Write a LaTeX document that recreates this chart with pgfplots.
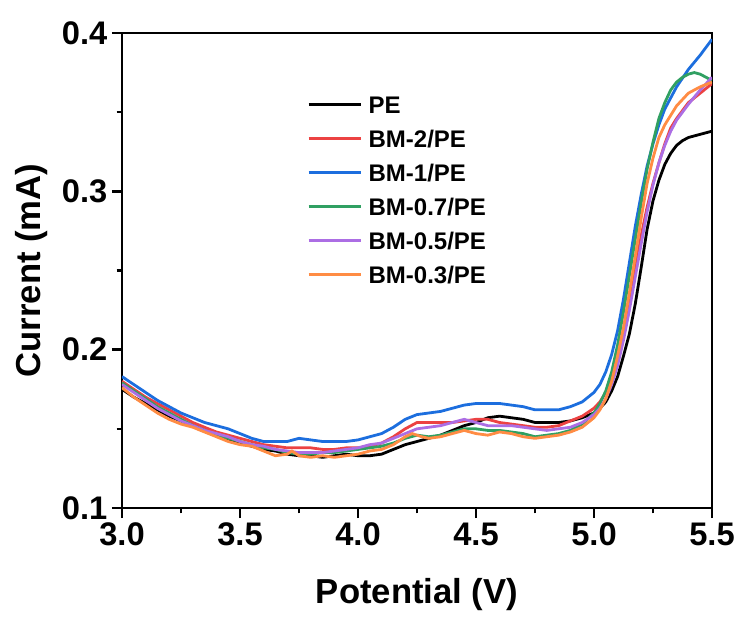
\documentclass[border=0pt]{standalone}
\usepackage{fontspec}
\setmainfont{Liberation Sans}
\usepackage{pgfplots}
\pgfplotsset{compat=1.18}
\definecolor{cRed}{RGB}{236,66,66}
\definecolor{cBlue}{RGB}{28,110,222}
\definecolor{cGreen}{RGB}{48,160,98}
\definecolor{cPurple}{RGB}{172,110,228}
\definecolor{cOrange}{RGB}{255,140,68}
\begin{document}
\begin{tikzpicture}
\begin{axis}[
  scale only axis, width=442.5pt, height=356.25pt,
  xmin=3, xmax=5.5, ymin=0.1, ymax=0.4,
  xtick={3,3.5,4,4.5,5,5.5}, ytick={0.1,0.2,0.3,0.4},
  minor x tick num=1, minor y tick num=1,
  xtick pos=bottom, ytick pos=left,
  tick align=outside,
  major tick length=7.5pt, minor tick length=4pt,
  axis line style={line width=2.2pt},
  every tick/.style={black, line width=2pt},
  /pgf/number format/assume math mode=true,
  xticklabel style={/pgf/number format/.cd, fixed, fixed zerofill, precision=1},
  yticklabel style={/pgf/number format/.cd, fixed, fixed zerofill, precision=1},
  ticklabel style={font=\fontsize{24.5pt}{29pt}\selectfont\bfseries},
  xlabel={Potential (V)}, ylabel={Current (mA)},
  label style={font=\fontsize{26pt}{31pt}\selectfont\bfseries},
  xlabel style={at={(axis description cs:0.5,-0.183)}, anchor=center},
  ylabel style={at={(axis description cs:-0.1525,0.5)}, anchor=center},
  legend cell align=left,
  legend style={at={(rel axis cs:0.3136,0.868)}, anchor=north west, draw=none, fill=none,
    inner sep=0pt, font=\fontsize{18pt}{21pt}\selectfont\bfseries,
    row sep=12.5pt, column sep=5pt,
    nodes={inner sep=0pt, text height=13pt, text depth=0pt}},
  legend image code/.code={\draw[#1,line width=2pt] (0pt,0pt) -- (39pt,0pt);},
  every axis plot/.append style={line width=2.1pt},
]
\addplot[black] coordinates {
(3.00,0.175)(3.05,0.170)(3.10,0.166)(3.15,0.162)(3.20,0.158)(3.25,0.155)(3.30,0.152)(3.35,0.149)(3.40,0.146)(3.45,0.143)
(3.50,0.141)(3.55,0.139)(3.60,0.137)(3.65,0.136)(3.70,0.134)(3.75,0.133)(3.80,0.133)(3.85,0.132)(3.90,0.133)(3.95,0.134)
(4.00,0.133)(4.05,0.133)(4.10,0.134)(4.15,0.137)(4.20,0.140)(4.25,0.142)(4.30,0.144)(4.35,0.146)(4.40,0.149)(4.45,0.152)
(4.50,0.154)(4.55,0.157)(4.60,0.158)(4.65,0.157)(4.70,0.156)(4.75,0.154)(4.80,0.154)(4.85,0.154)(4.90,0.155)(4.95,0.157)
(5.00,0.160)(5.025,0.163)(5.05,0.167)(5.075,0.174)(5.10,0.183)(5.125,0.196)(5.15,0.210)(5.175,0.229)(5.20,0.252)(5.225,0.276)
(5.25,0.294)(5.275,0.307)(5.30,0.317)(5.325,0.324)(5.35,0.329)(5.375,0.332)(5.40,0.334)(5.45,0.336)(5.50,0.338)};
\addlegendentry{PE}
\addplot[cRed] coordinates {
(3.00,0.180)(3.05,0.175)(3.10,0.170)(3.15,0.166)(3.20,0.162)(3.25,0.158)(3.30,0.154)(3.35,0.151)(3.40,0.148)(3.45,0.146)
(3.50,0.144)(3.55,0.142)(3.60,0.140)(3.65,0.139)(3.70,0.138)(3.75,0.138)(3.80,0.138)(3.85,0.137)(3.90,0.137)(3.95,0.138)
(4.00,0.138)(4.05,0.139)(4.10,0.141)(4.15,0.145)(4.20,0.150)(4.25,0.154)(4.30,0.154)(4.35,0.154)(4.40,0.154)(4.45,0.155)
(4.50,0.156)(4.55,0.156)(4.60,0.154)(4.65,0.153)(4.70,0.152)(4.75,0.151)(4.80,0.151)(4.85,0.152)(4.90,0.155)(4.95,0.158)
(5.00,0.163)(5.025,0.167)(5.05,0.173)(5.075,0.182)(5.10,0.195)(5.125,0.211)(5.15,0.230)(5.175,0.251)(5.20,0.272)(5.225,0.290)
(5.25,0.305)(5.275,0.318)(5.30,0.330)(5.325,0.340)(5.35,0.346)(5.40,0.356)(5.45,0.362)(5.50,0.368)};
\addlegendentry{BM-2/PE}
\addplot[cBlue] coordinates {
(3.00,0.183)(3.05,0.178)(3.10,0.173)(3.15,0.168)(3.20,0.164)(3.25,0.160)(3.30,0.157)(3.35,0.154)(3.40,0.152)(3.45,0.150)
(3.50,0.147)(3.55,0.144)(3.60,0.142)(3.65,0.142)(3.70,0.142)(3.75,0.144)(3.80,0.143)(3.85,0.142)(3.90,0.142)(3.95,0.142)
(4.00,0.143)(4.05,0.145)(4.10,0.147)(4.15,0.151)(4.20,0.156)(4.25,0.159)(4.30,0.160)(4.35,0.161)(4.40,0.163)(4.45,0.165)
(4.50,0.166)(4.55,0.166)(4.60,0.166)(4.65,0.165)(4.70,0.164)(4.75,0.162)(4.80,0.162)(4.85,0.162)(4.90,0.164)(4.95,0.167)
(5.00,0.173)(5.025,0.178)(5.05,0.186)(5.075,0.197)(5.10,0.212)(5.125,0.232)(5.15,0.255)(5.175,0.278)(5.20,0.298)(5.225,0.316)
(5.25,0.330)(5.275,0.342)(5.30,0.352)(5.35,0.366)(5.40,0.377)(5.45,0.386)(5.50,0.396)};
\addlegendentry{BM-1/PE}
\addplot[cGreen] coordinates {
(3.00,0.179)(3.05,0.174)(3.10,0.169)(3.15,0.164)(3.20,0.160)(3.25,0.156)(3.30,0.152)(3.35,0.149)(3.40,0.146)(3.45,0.144)
(3.50,0.142)(3.55,0.140)(3.60,0.138)(3.65,0.137)(3.70,0.135)(3.75,0.134)(3.80,0.134)(3.85,0.135)(3.90,0.135)(3.95,0.136)
(4.00,0.137)(4.05,0.138)(4.10,0.139)(4.15,0.141)(4.20,0.144)(4.25,0.146)(4.30,0.145)(4.35,0.146)(4.40,0.148)(4.45,0.150)
(4.50,0.150)(4.55,0.149)(4.60,0.149)(4.65,0.148)(4.70,0.147)(4.75,0.145)(4.80,0.146)(4.85,0.147)(4.90,0.149)(4.95,0.153)
(5.00,0.160)(5.025,0.166)(5.05,0.174)(5.075,0.186)(5.10,0.203)(5.125,0.224)(5.15,0.247)(5.175,0.270)(5.20,0.293)(5.225,0.314)
(5.25,0.331)(5.275,0.346)(5.30,0.356)(5.325,0.364)(5.35,0.369)(5.375,0.372)(5.40,0.374)(5.425,0.375)(5.45,0.374)(5.475,0.372)(5.50,0.370)};
\addlegendentry{BM-0.7/PE}
\addplot[cPurple] coordinates {
(3.00,0.178)(3.05,0.173)(3.10,0.168)(3.15,0.163)(3.20,0.159)(3.25,0.155)(3.30,0.152)(3.35,0.149)(3.40,0.147)(3.45,0.145)
(3.50,0.142)(3.55,0.140)(3.60,0.139)(3.65,0.137)(3.70,0.136)(3.75,0.135)(3.80,0.135)(3.85,0.135)(3.90,0.136)(3.95,0.137)
(4.00,0.138)(4.05,0.140)(4.10,0.141)(4.15,0.144)(4.20,0.147)(4.25,0.150)(4.30,0.151)(4.35,0.152)(4.40,0.154)(4.45,0.156)
(4.50,0.154)(4.55,0.152)(4.60,0.152)(4.65,0.152)(4.70,0.151)(4.75,0.150)(4.80,0.149)(4.85,0.150)(4.90,0.151)(4.95,0.154)
(5.00,0.159)(5.025,0.163)(5.05,0.169)(5.075,0.178)(5.10,0.190)(5.125,0.206)(5.15,0.225)(5.175,0.246)(5.20,0.267)(5.225,0.287)
(5.25,0.304)(5.275,0.318)(5.30,0.329)(5.325,0.338)(5.35,0.345)(5.40,0.355)(5.45,0.364)(5.50,0.372)};
\addlegendentry{BM-0.5/PE}
\addplot[cOrange] coordinates {
(3.00,0.176)(3.05,0.170)(3.10,0.165)(3.15,0.160)(3.20,0.156)(3.25,0.153)(3.30,0.151)(3.35,0.148)(3.40,0.145)(3.45,0.142)
(3.50,0.140)(3.55,0.139)(3.60,0.136)(3.65,0.133)(3.70,0.134)(3.72,0.136)(3.75,0.133)(3.80,0.132)(3.85,0.133)(3.90,0.132)(3.95,0.133)
(4.00,0.134)(4.05,0.136)(4.10,0.137)(4.15,0.140)(4.20,0.145)(4.23,0.147)(4.27,0.145)(4.30,0.144)(4.35,0.145)(4.40,0.147)(4.45,0.149)
(4.50,0.147)(4.55,0.146)(4.60,0.148)(4.65,0.147)(4.70,0.145)(4.75,0.144)(4.80,0.145)(4.85,0.146)(4.90,0.148)(4.95,0.151)
(5.00,0.157)(5.025,0.162)(5.05,0.169)(5.075,0.180)(5.10,0.196)(5.125,0.214)(5.15,0.236)(5.175,0.259)(5.20,0.283)(5.225,0.305)
(5.25,0.321)(5.275,0.334)(5.30,0.342)(5.35,0.354)(5.40,0.362)(5.45,0.366)(5.50,0.369)};
\addlegendentry{BM-0.3/PE}
\coordinate (O) at (rel axis cs:0,0);
\end{axis}
\path (O) ++(-91.5pt,-81.75pt) rectangle ++(556.5pt,462.75pt);
\end{tikzpicture}
\end{document}
